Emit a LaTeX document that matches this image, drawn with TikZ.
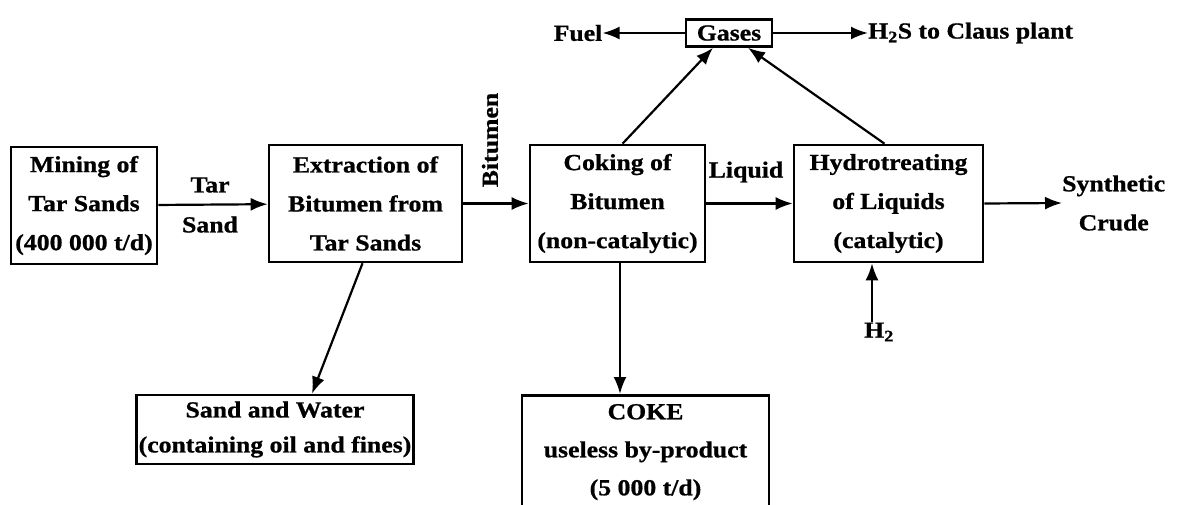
\documentclass[tikz,border=0pt]{standalone}
\usepackage{fontspec}
\setmainfont{Liberation Serif}[FakeStretch=1.12, BoldFeatures={FakeBold=0.8}]
\usetikzlibrary{arrows.meta,calc}
\tikzset{
  lbl/.style={font=\bfseries\fontsize{23}{39}\selectfont, align=center, inner sep=0pt},
  unit/.style={lbl, draw, line width=2.6pt},
  flow/.style={line width=2.2pt, -{Latex[length=17pt,width=13pt]}},
}
\begin{document}
\begin{tikzpicture}[x=1pt,y=-1pt]
\useasboundingbox (0,0) rectangle (1182,505);
\clip (0,0) rectangle (1182,505);

% process units
\node[unit, minimum width=146pt, minimum height=117pt] (mining) at (84,205.5)
  {Mining of\\Tar Sands\\(400 000 t/d)};
\node[unit, minimum width=193pt, minimum height=117pt] (extract) at (365.5,203.5)
  {Extraction of\\Bitumen from\\Tar Sands};
\node[unit, minimum width=175pt, minimum height=117pt] (coking) at (617.5,203.5)
  {Coking of\\Bitumen\\(non-catalytic)};
\node[unit, minimum width=189pt, minimum height=117pt] (hydro) at (888.5,203.5)
  {Hydrotreating\\of Liquids\\(catalytic)};
\node[unit, minimum width=86pt, minimum height=27pt] (gases) at (729,33) {Gases};
\node[unit, minimum width=277pt, minimum height=69pt,
      font=\bfseries\fontsize{23}{35}\selectfont] (sand) at (275,429.5)
  {Sand and Water\\(containing oil and fines)};
\node[unit, minimum width=247pt, anchor=north, text depth=40pt,
      font=\bfseries\fontsize{23}{38}\selectfont] (coke) at (645.5,394)
  {\rule{0pt}{24pt}COKE\\useless by-product\\(5 000 t/d)};

% stream labels and end points
\node[lbl] (fuel) at (578,33) {Fuel};
\node[lbl, anchor=west] (claus) at (868,33) {H\textsubscript{2}S to Claus plant};
\node[lbl, font=\bfseries\fontsize{23}{40}\selectfont] (tarsand) at (210,205) {Tar\\Sand};
\node[lbl, rotate=90] (bitumen) at (490,140) {Bitumen};
\node[lbl] (liquid) at (746,172) {Liquid};
\node[lbl, anchor=west] (crude) at (1062,203) {Synthetic\\Crude};
\node[lbl] (h2) at (879,332) {H\textsubscript{2}};

% streams
\draw[flow] (mining) -- (extract);
\draw[flow] (extract) -- (coking);
\draw[flow] (coking) -- (hydro);
\draw[flow] (hydro.east) -- (crude.west);
\draw[flow] ([xshift=5pt]coking.north) -- ([xshift=-16pt]gases.south);
\draw[flow] ([xshift=-4pt]hydro.north) -- ([xshift=19pt]gases.south);
\draw[flow] (gases.west) -- (fuel.east);
\draw[flow] (gases.east) -- (claus.west);
\draw[flow] ([xshift=-7pt]h2.north) -- ([xshift=-7pt]h2.north |- hydro.south);
\draw[flow] ([xshift=-3pt]extract.south) -- ([xshift=37pt]sand.north);
\draw[flow] ([xshift=2.5pt]coking.south) -- ([xshift=2.5pt]coking.south |- coke.north);
\end{tikzpicture}
\end{document}
